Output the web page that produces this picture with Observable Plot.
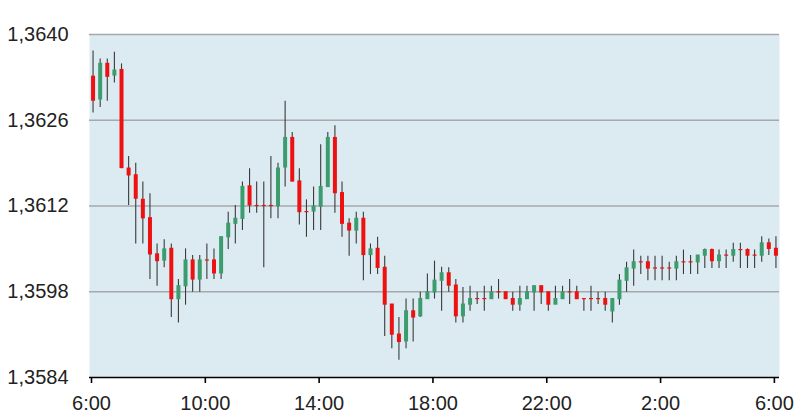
<!DOCTYPE html>
<html><head><meta charset="utf-8">
<script src="https://cdn.jsdelivr.net/npm/d3@7"></script>
<script src="https://cdn.jsdelivr.net/npm/@observablehq/plot@0.6"></script>
<style>html,body{margin:0;padding:0;background:#fff;}</style>
</head><body><div id="chart"></div>
<script>
const times = [
"6:00","6:15","6:30","6:45","7:00","7:15","7:30","7:45","8:00","8:15","8:30","8:45",
"9:00","9:15","9:30","9:45","10:00","10:15","10:30","10:45","11:00","11:15","11:30","11:45",
"12:00","12:15","12:30","12:45","13:00","13:15","13:30","13:45","14:00","14:15","14:30","14:45",
"15:00","15:15","15:30","15:45","16:00","16:15","16:30","16:45","17:00","17:15","17:30","17:45",
"18:00","18:15","18:30","18:45","19:00","19:15","19:30","19:45","20:00","20:15","20:30","20:45",
"21:00","21:15","21:30","21:45","22:00","22:15","22:30","22:45","23:00","23:15","23:30","23:45",
"0:00","0:15","0:30","0:45","1:00","1:15","1:30","1:45","2:00","2:15","2:30","2:45",
"3:00","3:15","3:30","3:45","4:00","4:15","4:30","4:45","5:00","5:15","5:30","5:45","6:00"];

const open = [
1.36331,1.36294,1.36352,1.36333,1.36342,1.36181,1.36170,1.36130,1.36100,1.36041,1.36031,1.36050,
1.35968,1.35989,1.36031,1.36000,1.36031,1.36031,1.36010,1.36069,1.36091,1.36099,1.36152,1.36120,
1.36120,1.36120,1.36120,1.36183,1.36231,1.36160,1.36110,1.36111,1.36119,1.36151,1.36231,1.36141,
1.36091,1.36080,1.36099,1.36040,1.36050,1.36019,1.35959,1.35910,1.35899,1.35948,1.35940,1.35968,
1.35979,1.35998,1.36010,1.35990,1.35940,1.35959,1.35968,1.35968,1.35968,1.35979,1.35979,1.35968,
1.35959,1.35968,1.35979,1.35989,1.35979,1.35959,1.35968,1.35979,1.35979,1.35968,1.35968,1.35968,
1.35968,1.35948,1.35968,1.35998,1.36018,1.36028,1.36028,1.36018,1.36018,1.36018,1.36018,1.36028,
1.36028,1.36028,1.36039,1.36048,1.36030,1.36039,1.36039,1.36048,1.36048,1.36039,1.36039,1.36059,1.36050];
const high = [
1.36373,1.36360,1.36360,1.36371,1.36352,1.36201,1.36190,1.36159,1.36140,1.36058,1.36065,1.36058,
1.36000,1.36050,1.36039,1.36039,1.36058,1.36050,1.36069,1.36110,1.36121,1.36159,1.36181,1.36159,
1.36159,1.36201,1.36190,1.36291,1.36240,1.36181,1.36130,1.36151,1.36220,1.36240,1.36251,1.36159,
1.36099,1.36110,1.36110,1.36058,1.36069,1.36038,1.35959,1.35938,1.35968,1.35968,1.35979,1.36009,
1.36030,1.36020,1.36019,1.36000,1.35987,1.35989,1.35979,1.35989,1.35989,1.36000,1.35979,1.35979,
1.35989,1.35989,1.35989,1.35989,1.35979,1.35989,1.35989,1.36000,1.35989,1.35968,1.35989,1.35979,
1.35979,1.35968,1.36008,1.36028,1.36048,1.36038,1.36038,1.36038,1.36038,1.36028,1.36038,1.36048,
1.36039,1.36039,1.36050,1.36050,1.36048,1.36048,1.36059,1.36059,1.36050,1.36048,1.36070,1.36066,1.36070];
const low = [
1.36272,1.36281,1.36291,1.36321,1.36181,1.36121,1.36058,1.36058,1.36000,1.35989,1.36019,1.35938,
1.35929,1.35958,1.35979,1.35979,1.36000,1.36000,1.36000,1.36049,1.36058,1.36080,1.36108,1.36108,
1.36019,1.36099,1.36099,1.36151,1.36159,1.36089,1.36069,1.36080,1.36080,1.36151,1.36108,1.36069,
1.36038,1.36058,1.35998,1.36008,1.36008,1.35907,1.35887,1.35868,1.35887,1.35898,1.35938,1.35968,
1.35968,1.35948,1.35979,1.35929,1.35929,1.35948,1.35959,1.35948,1.35968,1.35968,1.35968,1.35948,
1.35948,1.35968,1.35948,1.35959,1.35948,1.35959,1.35968,1.35959,1.35968,1.35948,1.35948,1.35959,
1.35948,1.35929,1.35958,1.35979,1.35989,1.36008,1.35998,1.35998,1.35998,1.35998,1.35998,1.36008,
1.36008,1.36008,1.36018,1.36018,1.36018,1.36018,1.36028,1.36018,1.36018,1.36018,1.36028,1.36039,1.36018];
const close = [
1.36292,1.36352,1.36331,1.36341,1.36182,1.36170,1.36132,1.36100,1.36041,1.36030,1.36049,1.35968,
1.35989,1.36031,1.36000,1.36031,1.36031,1.36010,1.36069,1.36091,1.36099,1.36151,1.36121,1.36120,
1.36120,1.36120,1.36181,1.36231,1.36160,1.36110,1.36110,1.36119,1.36151,1.36231,1.36141,1.36091,
1.36080,1.36099,1.36040,1.36049,1.36019,1.35959,1.35910,1.35898,1.35948,1.35938,1.35968,1.35979,
1.35998,1.36010,1.35990,1.35940,1.35959,1.35968,1.35968,1.35968,1.35979,1.35979,1.35968,1.35959,
1.35968,1.35979,1.35989,1.35979,1.35959,1.35968,1.35979,1.35979,1.35968,1.35968,1.35968,1.35968,
1.35959,1.35968,1.35998,1.36018,1.36028,1.36028,1.36018,1.36018,1.36018,1.36018,1.36028,1.36028,
1.36028,1.36039,1.36048,1.36030,1.36039,1.36039,1.36048,1.36048,1.36039,1.36039,1.36059,1.36050,1.36039];

const yTicks = [1.3584, 1.3598, 1.3612, 1.3626, 1.3640];
const xTickLabels = ["6:00","10:00","14:00","18:00","22:00","2:00","6:00"];
const xDomainLabels = ["6:00","6:15"];

const base = Date.UTC(2014, 0, 6, 0, 0);
function toDate(label, day) {
  const [h, m] = label.split(":").map(Number);
  return new Date(base + day * 864e5 + (h * 60 + m) * 6e4);
}
function parseSeq(labels) {
  let day = 0, prev = -1;
  return labels.map(l => {
    const h = +l.split(":")[0];
    if (h < prev) day++;
    prev = h;
    return toDate(l, day);
  });
}
const candleStarts = parseSeq(times);
const data = candleStarts.map((s, i) => ({
  t: new Date(+s + 7.5 * 6e4), o: open[i], h: high[i], l: low[i], c: close[i]
}));
const xTicks = parseSeq(xTickLabels);
const xDomain = [toDate(xDomainLabels[0], 0), toDate(xDomainLabels[1], 1)];

const RED = "#ee1111", GREEN = "#3c9c6e";
const font = "'Liberation Sans', Arial, sans-serif";

const chart = Plot.plot({
  width: 807, height: 417,
  marginLeft: 89, marginRight: 28, marginTop: 34, marginBottom: 40,
  style: {fontFamily: font, fontSize: "20px", color: "#222", background: "transparent", overflow: "visible"},
  x: {type: "utc", domain: xDomain, label: null},
  y: {domain: [yTicks[0], yTicks[yTicks.length - 1]], label: null},
  marks: [
    Plot.frame({fill: "#dbebf1", stroke: null}),
    Plot.ruleY(yTicks.slice(1), {stroke: "#a6a9ab", strokeWidth: 1.3}),
    Plot.ruleX(data, {x: "t", y1: "l", y2: "h", stroke: "#3a3a3a", strokeWidth: 1.1}),
    Plot.ruleX(data, {
      x: "t",
      y1: d => Math.max(d.o, d.c), y2: d => Math.min(d.o, d.c),
      stroke: d => d.c > d.o ? GREEN : RED,
      strokeWidth: 4, insetTop: -0.6, insetBottom: -0.6
    }),
    Plot.ruleY([yTicks[0]], {stroke: "#000", strokeWidth: 1.6}),
    Plot.axisX({ticks: xTicks, tickFormat: d3.utcFormat("%-H:%M"), tickSize: 6, tickPadding: 12,
      stroke: "#000", strokeWidth: 1.6, fill: "#222", fontSize: 20, dx: 2, label: null}),
    Plot.axisY({ticks: yTicks, tickFormat: d => d.toFixed(4).replace(".", ","), tickSize: 0, tickPadding: 21,
      fill: "#222", fontSize: 20, label: null})
  ]
});
document.getElementById("chart").appendChild(chart);
</script>
</body></html>
